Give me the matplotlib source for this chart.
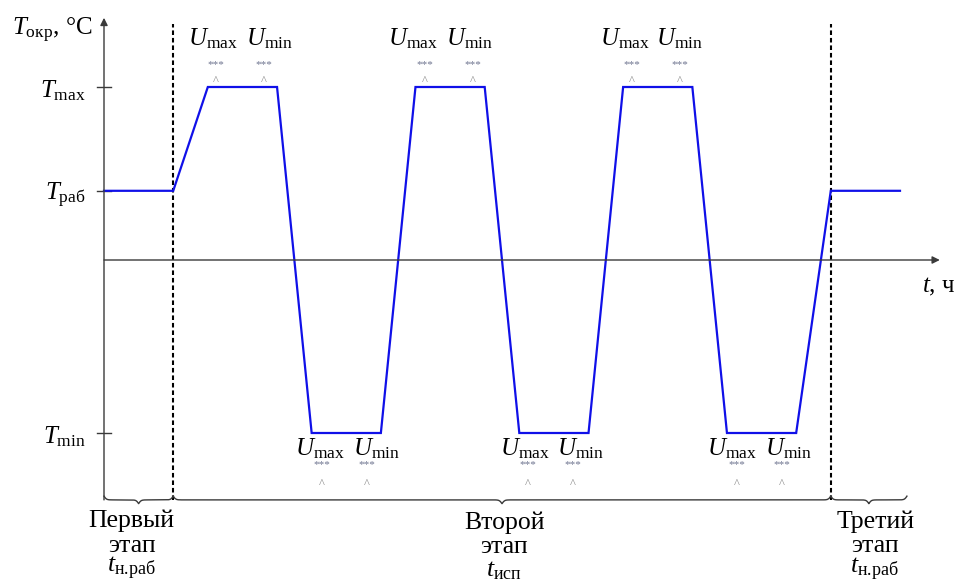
import numpy as np
import matplotlib.pyplot as plt

plt.rcParams['font.family'] = ['Liberation Serif', 'DejaVu Serif']
plt.rcParams['mathtext.fontset'] = 'custom'
plt.rcParams['mathtext.rm'] = 'Liberation Serif'
plt.rcParams['mathtext.it'] = 'Liberation Serif:italic'

# temperature profile of the test cycle (time in relative units, temperature in relative units)
t_prof = [0, 2, 3, 5, 6, 8, 9, 11, 12, 14, 15, 17, 18, 20, 21, 23]
T_MAX, T_RAB, T_MIN = 60, 24, -60
T_prof = [T_RAB, T_RAB, T_MAX, T_MAX, T_MIN, T_MIN, T_MAX, T_MAX,
          T_MIN, T_MIN, T_MAX, T_MAX, T_MIN, T_MIN, T_RAB, T_RAB]

# stage boundaries and labels
stage_edges = [0, 2, 21, 23.2]
stage_names = ['Первый', 'Второй', 'Третий']
stage_times = [r'$t_{\mathrm{н.\!раб}}$', r'$t_{\mathrm{исп}}$', r'$t_{\mathrm{н.\!раб}}$']

y_ticks = [T_MAX, T_RAB, T_MIN]
y_labels = [r'$T_{\mathrm{max}}$', r'$T_{\mathrm{раб}}$', r'$T_{\mathrm{min}}$']

# voltage check points: top (at T_max) and bottom (at T_min) holds
u_top_max = [2.43, 8.21, 14.33]
u_top_min = [4.10, 9.88, 15.95]
u_top_marks = [(3.24, 4.62), (9.27, 10.66), (15.26, 16.64)]
u_bot_max = [5.52, 11.44, 17.42]
u_bot_min = [7.19, 13.09, 19.10]
u_bot_marks = [(6.30, 7.60), (12.25, 13.55), (18.29, 19.59)]

sx = 796 / 23.0   # pixels per time unit
sy = 173 / 60.0   # pixels per temperature unit

fig = plt.figure(figsize=(9.6, 5.81), dpi=100)
ax = fig.add_axes([0, 0, 1, 1])
ax.set_xlim(-104 / sx, (960 - 104) / sx)
ax.set_ylim((260 - 581) / sy, 260 / sy)
ax.axis('off')

axc = '#3a3a3a'
y_base = -83.2

# axes with arrows
ax.annotate('', xy=(0, 84), xytext=(0, y_base),
            arrowprops=dict(arrowstyle='-|>', color=axc, lw=1.0,
                            mutation_scale=11, shrinkA=0, shrinkB=0))
ax.annotate('', xy=(24.15, 0), xytext=(0, 0),
            arrowprops=dict(arrowstyle='-|>', color=axc, lw=1.0,
                            mutation_scale=11, shrinkA=0, shrinkB=0))
for yt, lab in zip(y_ticks, y_labels):
    ax.plot([-0.2, 0.2], [yt, yt], color=axc, lw=1.0)
    ax.text(-0.52, yt - 3.5, lab, ha='right', va='baseline', fontsize=18)

ax.text(-2.66, 78, r'$T_{\mathrm{окр}}$, °C', ha='left', va='baseline', fontsize=18)
ax.text(23.63, -11.4, r'$t$, ч', ha='left', va='baseline', fontsize=18)

# stage separators
for xd in stage_edges[1:3]:
    ax.plot([xd, xd], [y_base, 82], color='black', lw=1.5, dashes=(2.2, 1.4))

# temperature profile
ax.plot(t_prof, T_prof, color='#1010e8', lw=1.6, solid_joinstyle='miter')


def brace(x0, x1, y, h=2.6, beta=28.0):
    n = 400
    x = np.linspace(x0, x1, n + 1)
    xh = x[:n // 2 + 1]
    yh = 1 / (1 + np.exp(-beta * (xh - xh[0]))) + 1 / (1 + np.exp(-beta * (xh - xh[-1])))
    yy = np.concatenate((yh, yh[-2::-1]))
    ax.plot(x, y - h * (yy - 1), color=axc, lw=1.0)


for i in range(3):
    brace(stage_edges[i], stage_edges[i + 1], y_base)

# stage captions
cap_x = [0.80, 11.56, 22.28]
cap_y = [(-92.5, -101.3, -108.4), (-93.4, -101.6, -109.6), (-93.0, -101.3, -108.6)]
for xc, (y1, y2, y3), name, tl in zip(cap_x, cap_y, stage_names, stage_times):
    ax.text(xc, y1, name, ha='center', va='baseline', fontsize=18.5)
    ax.text(xc, y2, 'этап', ha='center', va='baseline', fontsize=18.5)
    ax.text(xc, y3, tl, ha='center', va='baseline', fontsize=18.5)

# U labels with marker symbols
star_c = '#6f7590'
mark_c = '#8a8a8a'
for a, b, (m1, m2) in zip(u_top_max, u_top_min, u_top_marks):
    ax.text(a, 74.6, r'$U_{\mathrm{max}}$', ha='left', va='baseline', fontsize=18)
    ax.text(b, 74.6, r'$U_{\mathrm{min}}$', ha='left', va='baseline', fontsize=18)
    for m in (m1, m2):
        ax.text(m, 67.8, '***', ha='center', va='center', fontsize=8, color=star_c)
        ax.text(m, 62.2, '^', ha='center', va='center', fontsize=9, color=mark_c)

for a, b, (m1, m2) in zip(u_bot_max, u_bot_min, u_bot_marks):
    ax.text(a, -67.6, r'$U_{\mathrm{max}}$', ha='left', va='baseline', fontsize=18)
    ax.text(b, -67.6, r'$U_{\mathrm{min}}$', ha='left', va='baseline', fontsize=18)
    for m in (m1, m2):
        ax.text(m, -71.0, '***', ha='center', va='center', fontsize=8, color=star_c)
        ax.text(m, -77.8, '^', ha='center', va='center', fontsize=9, color=mark_c)

fig.savefig('out.png', dpi=100)
